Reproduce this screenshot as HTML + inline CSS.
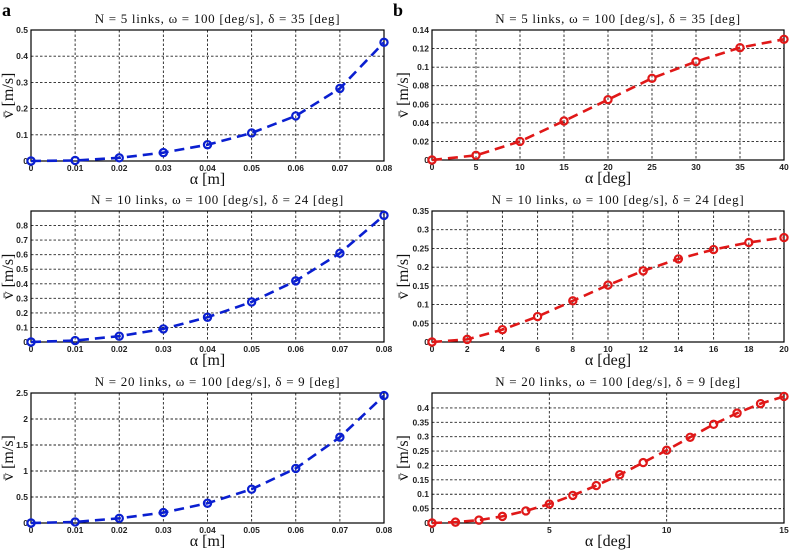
<!DOCTYPE html>
<html><head><meta charset="utf-8"><style>
body{margin:0;background:#fff;}
svg{display:block;}
.tk{font-family:"Liberation Sans",sans-serif;font-size:8.5px;font-weight:bold;fill:#222;}
.ti{font-family:"Liberation Serif",serif;font-size:13px;letter-spacing:0.7px;fill:#111;}
.xl{font-family:"Liberation Serif",serif;font-size:16px;fill:#111;}
</style></head><body>
<svg id="fig" width="790" height="551" viewBox="0 0 790 551">
<text x="2" y="16" font-family="Liberation Serif,serif" font-weight="bold" font-size="18">a</text>
<text x="393" y="16" font-family="Liberation Serif,serif" font-weight="bold" font-size="18">b</text>
</svg>
<script>
const a1Vals=[0,0.002,0.012,0.032,0.062,0.107,0.172,0.277,0.453];
const a2Vals=[0,0.01,0.04,0.09,0.17,0.275,0.42,0.61,0.87];
const a3Vals=[0,0.02,0.09,0.2,0.38,0.65,1.05,1.65,2.45];
const aX=[0,0.01,0.02,0.03,0.04,0.05,0.06,0.07,0.08];
const aXTicks=["0","0.01","0.02","0.03","0.04","0.05","0.06","0.07","0.08"];
const b1X=[0,5,10,15,20,25,30,35,40];
const b1Vals=[0,0.005,0.02,0.042,0.065,0.088,0.106,0.121,0.130];
const b2X=[0,2,4,6,8,10,12,14,16,18,20];
const b2Vals=[0,0.007,0.033,0.068,0.11,0.152,0.19,0.222,0.247,0.266,0.279];
const b3X=[0,1,2,3,4,5,6,7,8,9,10,11,12,13,14,15];
const b3Vals=[0,0.003,0.01,0.023,0.042,0.066,0.096,0.13,0.168,0.21,0.253,0.298,0.343,0.382,0.415,0.44];
const a1YTicks=["0","0.1","0.2","0.3","0.4","0.5"];
const a2YTicks=["0","0.1","0.2","0.3","0.4","0.5","0.6","0.7","0.8"];
const a3YTicks=["0","0.5","1","1.5","2","2.5"];
const b1YTicks=["0","0.02","0.04","0.06","0.08","0.1","0.12","0.14"];
const b2YTicks=["0","0.05","0.1","0.15","0.2","0.25","0.3","0.35"];
const b3YTicks=["0","0.05","0.1","0.15","0.2","0.25","0.3","0.35","0.4"];
const b1XTicks=["0","5","10","15","20","25","30","35","40"];
const b2XTicks=["0","2","4","6","8","10","12","14","16","18","20"];
const b3XTicks=["0","5","10","15"];

const NS="http://www.w3.org/2000/svg";
const svg=document.getElementById('fig');
function mk(tag,attrs,parent){const e=document.createElementNS(NS,tag);for(const k in attrs)e.setAttribute(k,attrs[k]);(parent||svg).appendChild(e);return e;}

function panel(id,L,R,T,B,xmax,ymax,xs,ys,xt,yt,title,xlab,color){
  const g=mk('g',{});
  
  
  const sx=v=>L+(R-L)*v/xmax, sy=v=>B-(B-T)*v/ymax;
  mk('rect',{x:L,y:T,width:R-L,height:B-T,fill:'#fff'},g);
  xt.forEach(t=>{const v=parseFloat(t);const x=sx(v);
    if(v>0&&v<xmax){const l=mk('line',{x1:x,x2:x,y1:T,y2:B,stroke:'#222','stroke-width':0.9,'stroke-dasharray':'2.5,2'},g);}
    const tx=mk('text',{x:x,y:B+10,'text-anchor':'middle',class:'tk'},g);tx.textContent=t;
    });
  yt.forEach(t=>{const v=parseFloat(t);const y=sy(v);
    if(v>0&&v<ymax){const l=mk('line',{x1:L,x2:R,y1:y,y2:y,stroke:'#222','stroke-width':0.9,'stroke-dasharray':'2.5,2'},g);}
    const tx=mk('text',{x:L-3,y:y+3,'text-anchor':'end',class:'tk'},g);tx.textContent=t;
    });
  const fr=mk('rect',{x:L,y:T,width:R-L,height:B-T,fill:'none',stroke:'#000','stroke-width':1.2},g);
  
  const pts=xs.map((x,i)=>sx(x)+','+sy(ys[i])).join(' ');
  const ln=mk('polyline',{points:pts,fill:'none',stroke:color,'stroke-width':2.6,'stroke-dasharray':'10,6'},g);
  
  xs.forEach((x,i)=>{const c=mk('circle',{cx:sx(x),cy:sy(ys[i]),r:3.6,fill:'none',stroke:color,'stroke-width':2.2},g);
    });
  const tt=mk('text',{x:(L+R)/2+10,y:T-7,'text-anchor':'middle',class:'ti'},g);tt.textContent=title;
  
  const xl=mk('text',{x:(L+R)/2,y:B+23,'text-anchor':'middle',class:'xl'},g);xl.textContent=xlab;
  
  const maxLen=Math.max(...yt.map(t=>t.length));
  const yc=(T+B)/2, yx=L-(maxLen>3?24:18);
  const yl=mk('text',{x:yx,y:yc,'text-anchor':'middle',class:'xl',transform:`rotate(-90 ${yx} ${yc})`},g);yl.textContent='v̄ [m/s]';
  
}
const blue='#0a1fd0', red='#e01818';
panel('chart-a1',31,384,30,161,0.08,0.5,aX,a1Vals,aXTicks,a1YTicks,'N = 5 links, ω = 100 [deg/s], δ = 35 [deg]','α [m]',blue);
panel('chart-a2',31,384,211,342,0.08,0.9,aX,a2Vals,aXTicks,a2YTicks,'N = 10 links, ω = 100 [deg/s], δ = 24 [deg]','α [m]',blue);
panel('chart-a3',31,384,393,523,0.08,2.5,aX,a3Vals,aXTicks,a3YTicks,'N = 20 links, ω = 100 [deg/s], δ = 9 [deg]','α [m]',blue);
panel('chart-b1',432,784,30,160,40,0.14,b1X,b1Vals,b1XTicks,b1YTicks,'N = 5 links, ω = 100 [deg/s], δ = 35 [deg]','α [deg]',red);
panel('chart-b2',432,784,211,342,20,0.35,b2X,b2Vals,b2XTicks,b2YTicks,'N = 10 links, ω = 100 [deg/s], δ = 24 [deg]','α [deg]',red);
panel('chart-b3',432,784,393,523,15,0.452,b3X,b3Vals,b3XTicks,b3YTicks,'N = 20 links, ω = 100 [deg/s], δ = 9 [deg]','α [deg]',red);
</script>
</body></html>
